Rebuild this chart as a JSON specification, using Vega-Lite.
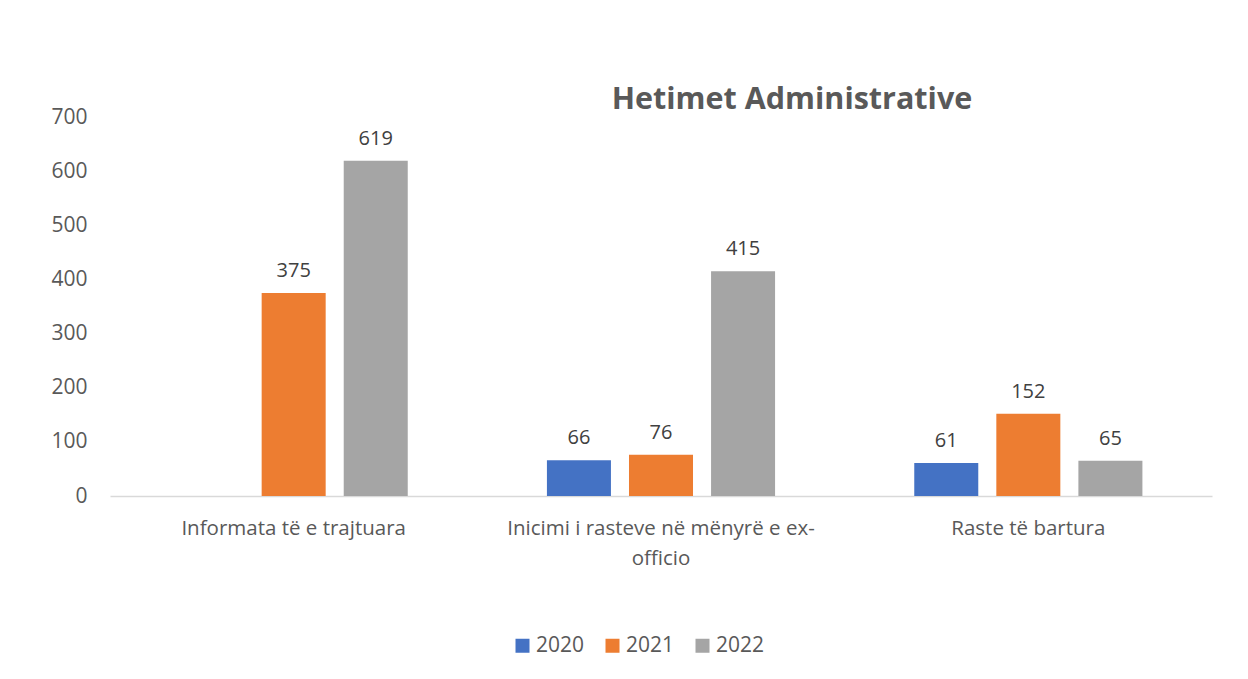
{
  "$schema": "https://vega.github.io/schema/vega-lite/v6.json",
  "width": 1102,
  "height": 379,
  "autosize": {"type": "none"},
  "padding": {"left": 110, "top": 117, "right": 36, "bottom": 183},
  "background": "white",
  "title": {
    "text": "Hetimet Administrative",
    "anchor": "middle",
    "dx": 131,
    "offset": -9,
    "fontSize": 30.5,
    "fontWeight": "bold",
    "font": "Open Sans",
    "color": "#595959"
  },
  "data": {
    "values": [
      {"category": "Informata të e trajtuara", "year": "2021", "value": 375},
      {"category": "Informata të e trajtuara", "year": "2022", "value": 619},
      {"category": "Inicimi i rasteve në mënyrë e ex-officio", "year": "2020", "value": 66},
      {"category": "Inicimi i rasteve në mënyrë e ex-officio", "year": "2021", "value": 76},
      {"category": "Inicimi i rasteve në mënyrë e ex-officio", "year": "2022", "value": 415},
      {"category": "Raste të bartura", "year": "2020", "value": 61},
      {"category": "Raste të bartura", "year": "2021", "value": 152},
      {"category": "Raste të bartura", "year": "2022", "value": 65}
    ]
  },
  "encoding": {
    "x": {
      "field": "category",
      "type": "nominal",
      "sort": null,
      "scale": {"paddingInner": 0, "paddingOuter": 0},
      "axis": {
        "title": null,
        "labelAngle": 0,
        "ticks": false,
        "domainColor": "#d9d9d9",
        "domainWidth": 1.5,
        "labelColor": "#595959",
        "labelFont": "Open Sans",
        "labelFontSize": 20.5,
        "labelPadding": 22,
        "labelLineHeight": 30,
        "labelBaseline": "top",
        "labelLimit": 0,
        "labelExpr": "datum.label == 'Inicimi i rasteve në mënyrë e ex-officio' ? ['Inicimi i rasteve në mënyrë e ex-', 'officio'] : datum.label"
      }
    },
    "xOffset": {
      "field": "year",
      "type": "nominal",
      "scale": {"domain": ["2020", "2021", "2022"], "paddingInner": 0.22, "paddingOuter": 0.848}
    },
    "y": {
      "field": "value",
      "type": "quantitative",
      "scale": {"domain": [0, 700]},
      "axis": {
        "title": null,
        "values": [0, 100, 200, 300, 400, 500, 600, 700],
        "grid": false,
        "domain": false,
        "ticks": false,
        "labelColor": "#595959",
        "labelFont": "Open Sans",
        "labelFontSize": 21,
        "labelPadding": 23
      }
    }
  },
  "layer": [
    {
      "mark": {"type": "bar"},
      "encoding": {
        "color": {
          "field": "year",
          "type": "nominal",
          "scale": {"domain": ["2020", "2021", "2022"], "range": ["#4472C4", "#ED7D31", "#A5A5A5"]},
          "legend": {
            "title": null,
            "orient": "none",
            "direction": "horizontal",
            "legendX": 402,
            "legendY": 518,
            "symbolType": "square",
            "symbolSize": 196,
            "symbolStrokeWidth": 0,
            "labelFont": "Open Sans",
            "labelFontSize": 21,
            "labelColor": "#595959",
            "labelOffset": 3,
            "columnPadding": 17
          }
        }
      }
    },
    {
      "mark": {"type": "text", "baseline": "bottom", "dy": -12, "font": "Open Sans", "fontSize": 20, "color": "#404040"},
      "encoding": {
        "text": {"field": "value", "type": "quantitative"}
      }
    }
  ],
  "config": {
    "view": {"stroke": null}
  }
}
